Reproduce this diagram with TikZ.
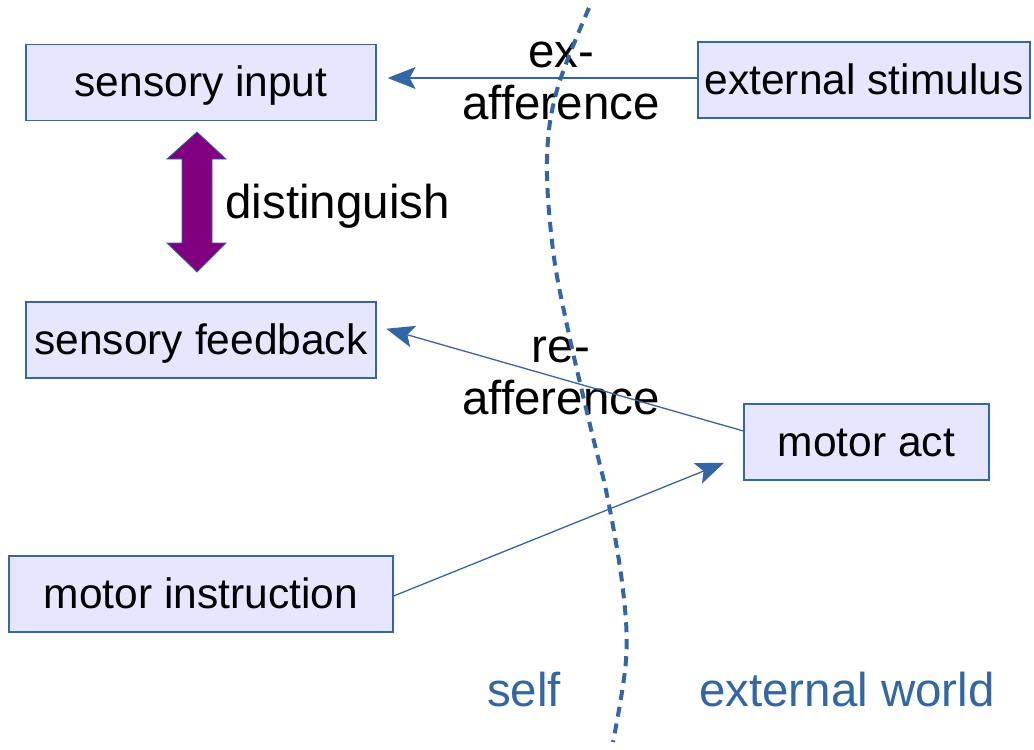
\documentclass[tikz,border=0pt]{standalone}
\usepackage{fontspec}
\setmainfont{Liberation Sans}
\usetikzlibrary{arrows.meta}
\definecolor{lobox}{RGB}{230,230,255}
\definecolor{loblue}{RGB}{52,101,164}
\definecolor{lopurple}{RGB}{128,0,128}
\begin{document}
\begin{tikzpicture}[x=1pt,y=-1pt,
  block/.style={draw=loblue, fill=lobox, line width=1.2pt, inner sep=0pt,
    minimum height=76pt, text height=34pt, text depth=6pt, font=\fontsize{42.5}{50}\selectfont},
  flow/.style={loblue, line width=1.3pt, -{Stealth[length=28pt,width=22pt,inset=6pt]}},
  lbl/.style={align=center, font=\fontsize{47.5}{52}\selectfont},
  side/.style={loblue, font=\fontsize{47.5}{52}\selectfont}]
\useasboundingbox (0,0) rectangle (1034,750);
%
\node[block, minimum width=350pt] (sin) at (201,82.5) {sensory input};
\node[block, minimum width=332pt] (ext) at (864,80) {external stimulus};
\node[block, minimum width=350pt] (sfb) at (201,340) {sensory feedback};
\node[block, minimum width=245pt] (mact) at (866.5,442) {motor act};
\node[block, minimum width=384pt] (minst) at (201,594) {motor instruction};
%
\node[lbl] (exaff) at (561,81) {ex-\\afference};
\node[lbl] (reaff) at (561,376) {re-\\afference};
\node[lbl, anchor=west] (dist) at (222,206) {distinguish};
\node[side] (self) at (524,690) {self};
\node[side] (world) at (847,690) {external world};
%
\draw[draw=loblue, fill=lopurple, line width=0.8pt] (197,132) -- (226,159) -- (212,159) -- (212,243)
  -- (226,243) -- (197,272) -- (167,243) -- (182,243) -- (182,159) -- (167,159) -- cycle;
%
\draw[flow, shorten >=11pt] ([yshift=2pt]ext.west) -- ([yshift=4.5pt]sin.east);
\draw[flow, shorten >=10pt] ([yshift=11pt]mact.west) -- ([yshift=14pt]sfb.east);
\draw[flow, shorten >=21pt] ([yshift=-2pt]minst.east) -- ([yshift=-13pt]mact.west);
%
\draw[loblue, line width=4pt, dash pattern=on 10pt off 7pt] plot[smooth, tension=0.6] coordinates
  {(589,8) (557,90) (547,160) (553,250) (568,330) (590,425) (608,500) (623,590) (626,660) (613,742)};
%
\end{tikzpicture}
\end{document}
